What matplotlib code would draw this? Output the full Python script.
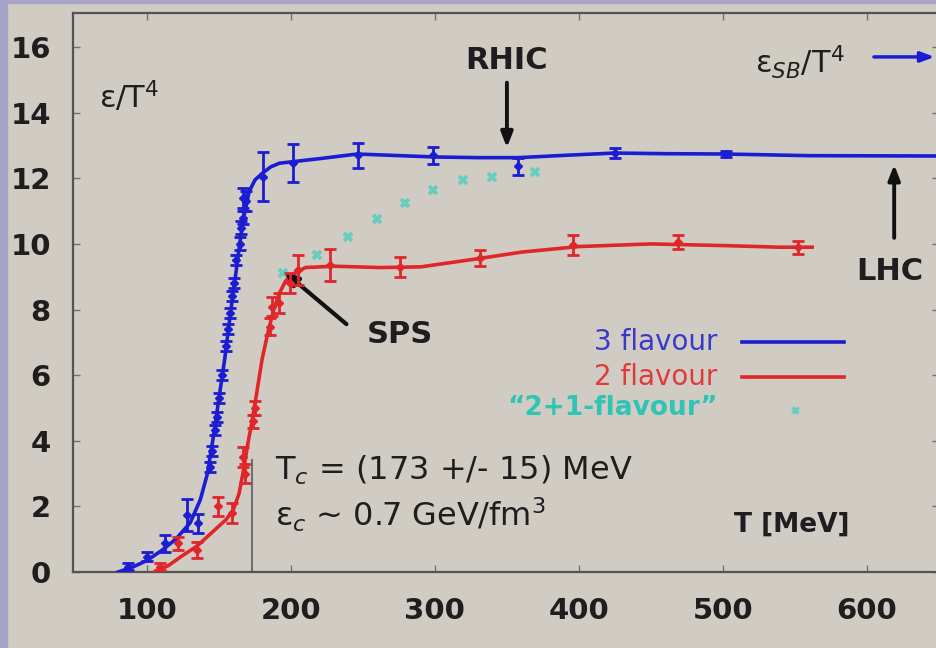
import matplotlib
matplotlib.use("Agg")
import matplotlib.pyplot as plt
from matplotlib.patches import Rectangle

plt.rcParams['font.family'] = ['DejaVu Sans']
plt.rcParams['mathtext.fontset'] = 'dejavusans'

# --- data (T in MeV, eps/T^4) ---
# 3 flavour: lattice points with errors
t3_pts = [87, 99.8, 112.5, 127.5, 135.6, 143.8, 145, 147.2, 148.4, 150, 152, 155, 156,
          157.5, 159, 160.5, 162, 164.5, 165.5, 166.5, 167, 169, 180.8, 201.2, 246.8,
          298.8, 357.9, 425, 502]
e3_pts = [0.16, 0.47, 0.87, 1.74, 1.48, 3.2, 3.7, 4.33, 4.73, 5.3, 6.0, 6.9, 7.4,
          7.9, 8.4, 8.8, 9.5, 10.0, 10.5, 10.8, 11.4, 11.3, 12.05, 12.46, 12.7,
          12.7, 12.36, 12.76, 12.74]
err3 = [0.1, 0.15, 0.25, 0.5, 0.3, 0.15, 0.15, 0.15, 0.15, 0.15, 0.15, 0.15, 0.15,
        0.15, 0.15, 0.15, 0.15, 0.2, 0.2, 0.2, 0.3, 0.3, 0.74, 0.58, 0.38,
        0.25, 0.25, 0.15, 0.1]
# 3 flavour: smooth curve
t3_line = [80, 90, 100, 110, 120, 130, 137, 142, 146, 150, 154, 158, 162, 165, 168,
           171, 175, 180, 186, 192, 200, 220, 246, 270, 300, 330, 358, 390, 425, 460,
           502, 560, 650]
e3_line = [0.0, 0.15, 0.35, 0.65, 1.0, 1.5, 2.2, 3.0, 4.1, 5.3, 6.5, 7.9, 9.2, 10.2,
           11.0, 11.6, 11.95, 12.15, 12.35, 12.46, 12.5, 12.6, 12.74, 12.7, 12.65, 12.63,
           12.63, 12.7, 12.77, 12.75, 12.74, 12.69, 12.68]

# 2 flavour: lattice points with errors
t2_pts = [109, 121.8, 134.5, 149.5, 158.8, 166.9, 168, 173.8, 175, 185.4, 186.6,
          192, 199, 205, 227, 275.7, 331, 396, 469, 552]
e2_pts = [0.16, 0.87, 0.67, 2.0, 1.79, 3.5, 3.0, 4.6, 5.0, 7.48, 8.09,
          8.2, 8.8, 9.2, 9.36, 9.3, 9.57, 9.97, 10.06, 9.9]
err2 = [0.1, 0.2, 0.25, 0.3, 0.3, 0.3, 0.3, 0.2, 0.2, 0.25, 0.3,
        0.3, 0.3, 0.45, 0.5, 0.3, 0.25, 0.3, 0.2, 0.2]
# 2 flavour: smooth curve
t2_line = [105, 115, 123, 135, 145, 155, 160, 164, 167, 170, 173, 176, 180, 184, 188,
           192, 196, 200, 210, 230, 262, 290, 330, 360, 400, 450, 500, 540, 562]
e2_line = [0.0, 0.2, 0.45, 0.8, 1.2, 1.6, 1.9, 2.4, 3.1, 3.9, 4.6, 5.4, 6.5, 7.3, 8.0,
           8.5, 8.85, 9.05, 9.28, 9.32, 9.28, 9.3, 9.55, 9.75, 9.92, 10.0, 9.95, 9.9, 9.9]

# "2+1-flavour" points
t21 = [194.7, 217.8, 239.8, 259.5, 279.2, 298.8, 319.7, 339.4, 369.4]
e21 = [9.1, 9.66, 10.22, 10.75, 11.26, 11.65, 11.95, 12.05, 12.2]

tc_value = 173

blue = '#1c1cd2'
red = '#e0262a'
cyan = '#45cdbd'
bg = '#d0ccc4'

fig = plt.figure(figsize=(9.36, 6.48), dpi=100, facecolor=bg)
ax = fig.add_axes([0.078, 0.1173, 0.925, 0.8627], facecolor=bg)
fig.patches.append(Rectangle((0, 0), 0.008, 1, transform=fig.transFigure,
                             color='#a8a4c8', zorder=0))
fig.patches.append(Rectangle((0, 0.995), 1, 0.005, transform=fig.transFigure,
                             color='#a8a4c8', zorder=0))

ax.set_xlim(48.6, 650)
ax.set_ylim(0, 17.04)

# curves
ax.plot(t3_line, e3_line, color=blue, lw=2.6, zorder=3)
ax.errorbar(t3_pts, e3_pts, yerr=err3, fmt='D', ms=4, color=blue, ecolor=blue,
            elinewidth=2, capsize=4, capthick=2, zorder=4)
ax.plot(t2_line, e2_line, color=red, lw=2.6, zorder=3)
ax.errorbar(t2_pts, e2_pts, yerr=err2, fmt='D', ms=4, color=red, ecolor=red,
            elinewidth=2, capsize=4, capthick=2, zorder=4)
ax.plot(t21, e21, ls='none', marker='x', ms=6, mew=2.8, color=cyan, alpha=0.75, zorder=2)

# T_c marker line
ax.plot([tc_value, tc_value], [0, 3.4], color='#707070', lw=1.5, zorder=1)

# axes styling
for s in ax.spines.values():
    s.set_color('#555550')
    s.set_linewidth(1.6)
ax.set_xticks([100, 200, 300, 400, 500, 600])
ax.set_yticks([0, 2, 4, 6, 8, 10, 12, 14, 16])
ax.tick_params(direction='in', length=5, width=1, color='#707070',
               top=True, right=True, labelsize=21, labelcolor='#1e1e1e')
ax.tick_params(axis='x', pad=18)
ax.tick_params(axis='y', pad=16)
for lab in ax.get_xticklabels() + ax.get_yticklabels():
    lab.set_fontweight('bold')

# annotations
txt = '#1e1e1e'
ax.text(67, 14.5, r'ε/T$^4$', fontsize=22, color=txt, ha='left', va='center')
ax.text(350, 15.6, 'RHIC', fontsize=22, fontweight='bold', color=txt,
        ha='center', va='center')
ax.annotate('', xy=(350, 12.85), xytext=(350, 15.0),
            arrowprops=dict(arrowstyle='-|>,head_width=0.35,head_length=0.9',
                            color='#111111', lw=2.8))
ax.text(522, 15.55, r'ε$_{SB}$/T$^4$', fontsize=22, color=txt, ha='left', va='center')
ax.annotate('', xy=(649, 15.7), xytext=(603, 15.7),
            arrowprops=dict(arrowstyle='-|>,head_width=0.3,head_length=0.8',
                            color=blue, lw=2.5))
ax.text(616, 9.15, 'LHC', fontsize=22, fontweight='bold', color=txt,
        ha='center', va='center')
ax.annotate('', xy=(619, 12.5), xytext=(619, 10.1),
            arrowprops=dict(arrowstyle='-|>,head_width=0.35,head_length=0.9',
                            color='#111111', lw=2.8))
ax.text(298.5, 7.25, 'SPS', fontsize=22, fontweight='bold', color=txt,
        ha='right', va='center')
ax.annotate('', xy=(194, 9.2), xytext=(240, 7.5),
            arrowprops=dict(arrowstyle='-|>,head_width=0.35,head_length=0.8',
                            color='#111111', lw=3))
ax.text(189, 3.1, r'T$_c$ = (173 +/- 15) MeV', fontsize=23, color=txt,
        ha='left', va='center')
ax.text(189, 1.75, r'ε$_c$ ~ 0.7 GeV/fm$^3$', fontsize=23, color=txt,
        ha='left', va='center')
ax.text(588, 1.45, 'T [MeV]', fontsize=19, fontweight='bold', color=txt,
        ha='right', va='center')

# hand-made legend
ax.text(496.5, 7.0, '3 flavour', fontsize=20, color='#3a3ac8', ha='right', va='center')
ax.plot([513, 584], [7.0, 7.0], color=blue, lw=2.6)
ax.text(496.5, 5.95, '2 flavour', fontsize=20, color='#e03a3a', ha='right', va='center')
ax.plot([513, 584], [5.95, 5.95], color=red, lw=2.6)
ax.text(496.5, 5.0, '\u201c2+1-flavour\u201d', fontsize=19, fontweight='bold', color='#30c4b4',
        ha='right', va='center')
ax.plot([550], [4.95], ls='none', marker='x', ms=5, mew=2.5, color=cyan, alpha=0.75)

fig.savefig('out.png', dpi=100, facecolor=bg)
